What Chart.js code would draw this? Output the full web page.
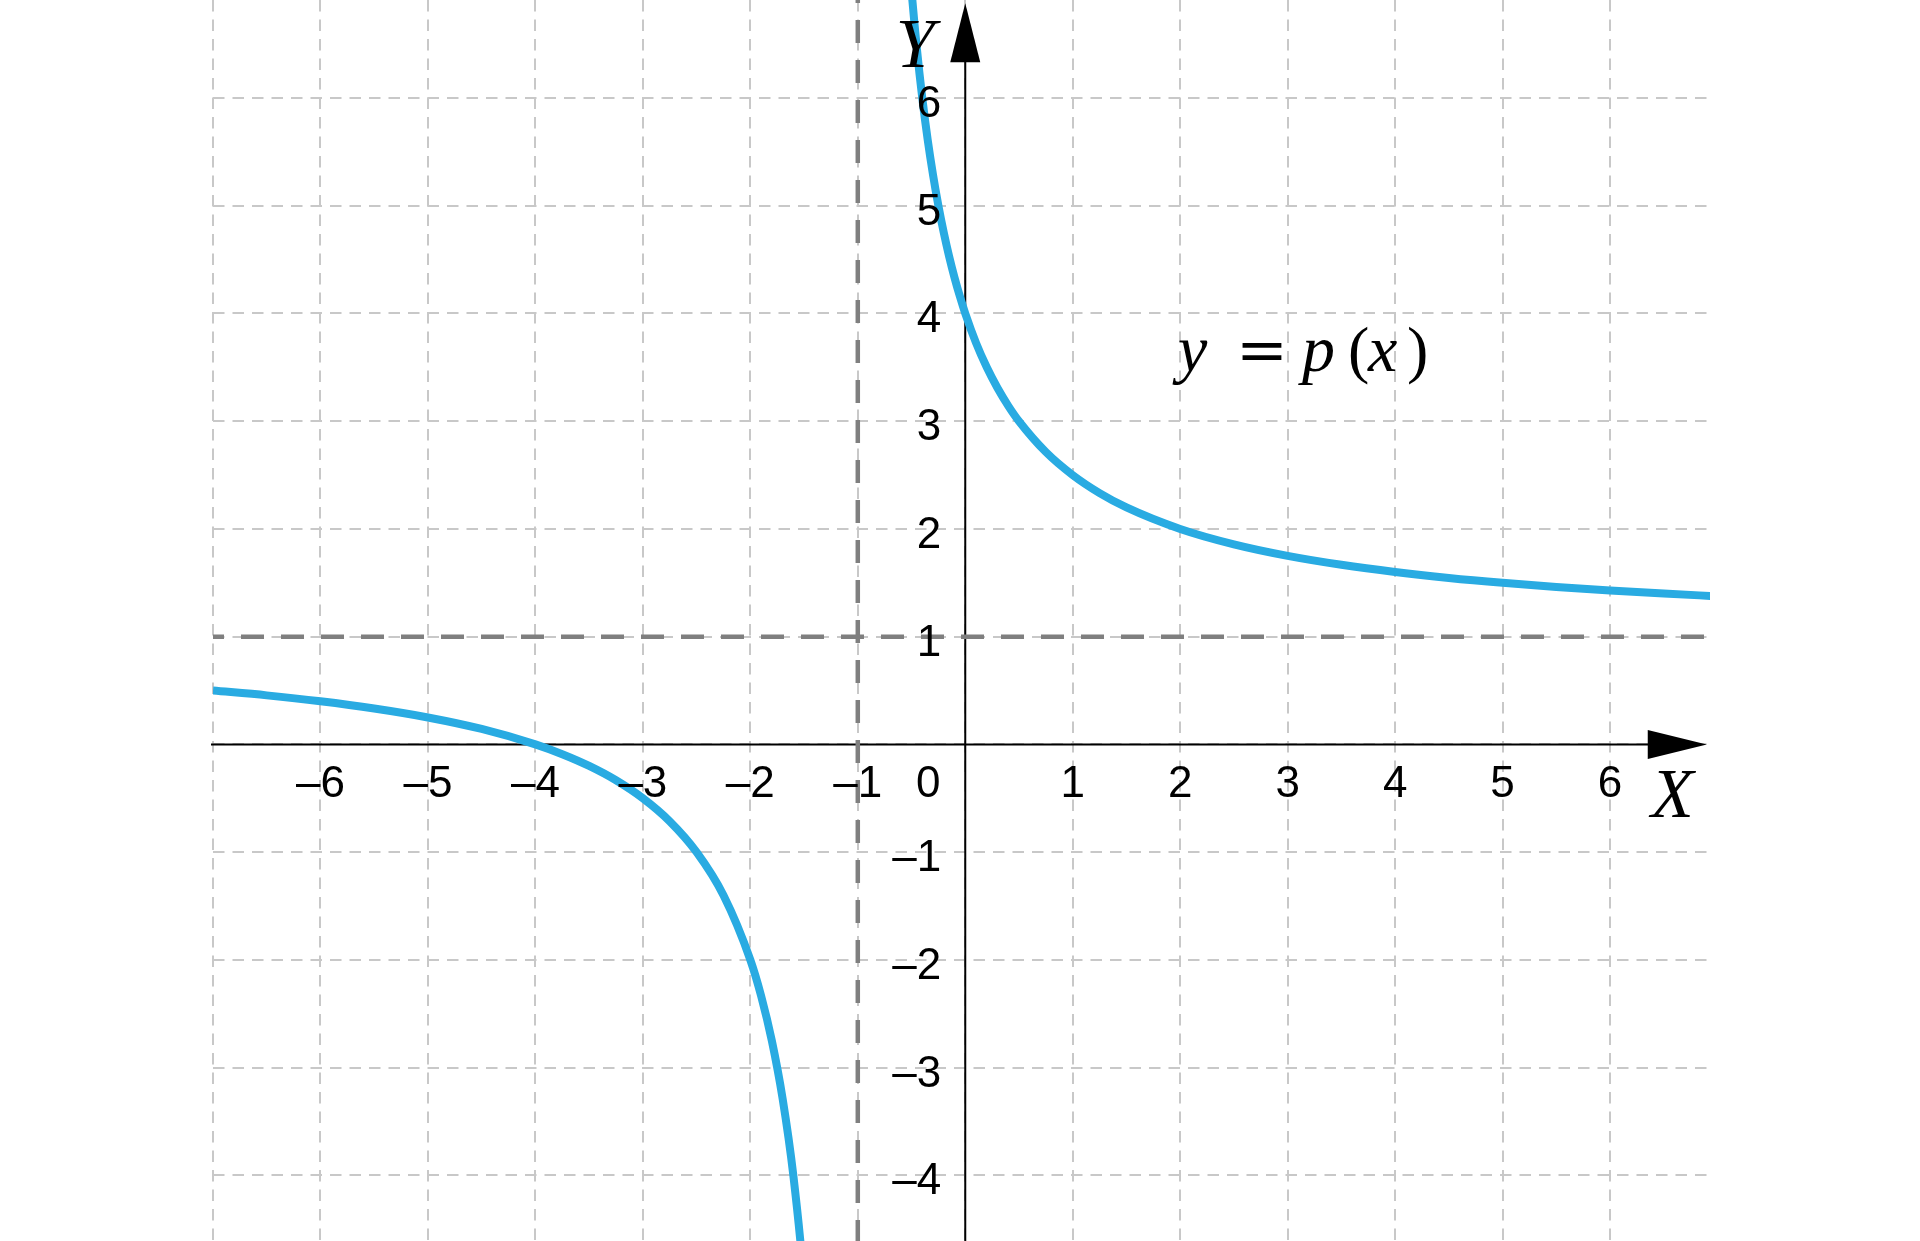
<!DOCTYPE html>
<html><head><meta charset="utf-8">
<script src="https://cdn.jsdelivr.net/npm/chart.js@4"></script>
<style>html,body{margin:0;padding:0;background:#fff;}#wrap{width:1920px;height:1241px;position:relative;}</style>
</head><body><div id="wrap"><canvas id="c"></canvas></div>
<script>
// ---- data ----
const xTickValues = [-6, -5, -4, -3, -2, -1, 1, 2, 3, 4, 5, 6];
const yTickValues = [-4, -3, -2, -1, 1, 2, 3, 4, 5, 6];
const originLabel = '0';
const leftX = [-7, -6.5, -6, -5.5, -5, -4.5, -4, -3.75, -3.5, -3.25, -3, -2.75, -2.5, -2.25, -2, -1.9, -1.8, -1.7, -1.6, -1.5, -1.4];
const leftY = [0.5, 0.455, 0.4, 0.333, 0.25, 0.143, 0, -0.091, -0.2, -0.333, -0.5, -0.714, -1, -1.4, -2, -2.333, -2.75, -3.286, -4, -5, -6.5];
const rightX = [-0.6, -0.55, -0.5, -0.45, -0.4, -0.35, -0.3, -0.25, -0.2, -0.15, -0.1, -0.05, 0, 0.1, 0.2, 0.3, 0.4, 0.5, 0.75, 1, 1.25, 1.5, 2, 2.5, 3, 3.5, 4, 4.5, 5, 5.5, 6, 6.5, 7];
const rightY = [8.5, 7.667, 7, 6.455, 6, 5.615, 5.286, 5, 4.75, 4.529, 4.333, 4.158, 4, 3.727, 3.5, 3.308, 3.143, 3, 2.714, 2.5, 2.333, 2.2, 2, 1.857, 1.75, 1.667, 1.6, 1.545, 1.5, 1.462, 1.429, 1.4, 1.375];
const hAsymX = [-7, 7];
const hAsymY = [1, 1];
const vAsymX = [-1, -1];
const vAsymY = [-5, 7];
const axisXLabel = 'X';
const axisYLabel = 'Y';
const curveLabelParts = ['y', '=', 'p', '(', 'x', ')'];

const toPts = (xs, ys) => xs.map((v, i) => ({x: v, y: ys[i]}));
const fmt = v => v < 0 ? '\u2013' + Math.abs(v) : String(v);

const CURVE = '#29abe2';
const ASYM = '#7f7f7f';

const overlay = {
  id: 'overlay',
  beforeDatasetsDraw(chart) {
    const {ctx, scales: {x, y}, chartArea} = chart;
    const ox = x.getPixelForValue(0), oy = y.getPixelForValue(0);
    ctx.save();
    ctx.strokeStyle = '#000';
    ctx.lineWidth = 2;
    ctx.beginPath();
    ctx.moveTo(chartArea.left - 2, oy);
    ctx.lineTo(x.getPixelForValue(6.5), oy);
    ctx.moveTo(ox, chartArea.bottom);
    ctx.lineTo(ox, y.getPixelForValue(6.5));
    ctx.stroke();
    ctx.restore();
  },
  afterDatasetsDraw(chart) {
    const {ctx, scales: {x, y}} = chart;
    const ox = x.getPixelForValue(0), oy = y.getPixelForValue(0);
    ctx.save();
    // arrows
    ctx.fillStyle = '#000';
    const xt = x.getPixelForValue(6.9);
    ctx.beginPath();
    ctx.moveTo(xt, oy); ctx.lineTo(xt - 59, oy - 14.5); ctx.lineTo(xt - 59, oy + 14.5); ctx.closePath(); ctx.fill();
    const yt = y.getPixelForValue(6.88);
    ctx.beginPath();
    ctx.moveTo(ox, yt); ctx.lineTo(ox - 15, yt + 59); ctx.lineTo(ox + 15, yt + 59); ctx.closePath(); ctx.fill();

    // tick labels
    ctx.font = '44px "Liberation Sans", Arial, sans-serif';
    ctx.textBaseline = 'alphabetic';
    ctx.textAlign = 'center';
    xTickValues.forEach(v => ctx.fillText(fmt(v), x.getPixelForValue(v), oy + 53));
    ctx.fillText(originLabel, ox - 37, oy + 53);
    ctx.textAlign = 'right';
    yTickValues.forEach(v => ctx.fillText(fmt(v), ox - 24, y.getPixelForValue(v) + 19));

    // axis names
    ctx.font = 'italic 70px "Liberation Serif", "Times New Roman", serif';
    ctx.textAlign = 'center';
    ctx.fillText(axisYLabel, ox - 50, y.getPixelForValue(6.29));
    ctx.fillText(axisXLabel, x.getPixelForValue(6.58), y.getPixelForValue(-0.67));

    // curve label y = p(x)
    const bx = x.getPixelForValue(1.98), by = y.getPixelForValue(3.466);
    const offs = [0, 58, 124, 170, 190, 229];
    const fonts = ['italic 66px "Liberation Serif"', '62px "DejaVu Serif"', 'italic 66px "Liberation Serif"', '64px "Liberation Serif"', 'italic 66px "Liberation Serif"', '64px "Liberation Serif"'];
    ctx.textAlign = 'left';
    curveLabelParts.forEach((t, i) => { ctx.font = fonts[i]; ctx.fillText(t, bx + offs[i], by); });
    ctx.restore();
  }
};

const lineDs = (data, color, width, dash, offset) => ({
  data, showLine: true, borderColor: color, backgroundColor: color, borderWidth: width,
  pointRadius: 0, pointHoverRadius: 0, borderDash: dash || [], borderDashOffset: offset || 0,
  cubicInterpolationMode: dash ? 'default' : 'monotone', tension: 0, fill: false
});

new Chart(document.getElementById('c'), {
  type: 'scatter',
  data: {
    datasets: [
      lineDs(toPts(rightX, rightY), CURVE, 8),
      lineDs(toPts(leftX, leftY), CURVE, 8),
      lineDs(toPts(hAsymX, hAsymY), ASYM, 4.5, [23, 17], 12),
      lineDs(toPts(vAsymX, vAsymY), ASYM, 4.5, [23, 17], 0)
    ]
  },
  options: {
    responsive: true, maintainAspectRatio: false, animation: false,
    layout: {padding: {left: 213, right: 210, top: 0, bottom: 0}},
    plugins: {legend: {display: false}, tooltip: {enabled: false}},
    events: [],
    scales: {
      x: {
        type: 'linear', min: -7, max: 6.93,
        ticks: {display: false, stepSize: 1, includeBounds: false},
        grid: {color: '#c8c8c8', lineWidth: 2, drawTicks: false},
        border: {display: false, dash: [11.5, 8]},
        afterFit(s) { s.height = 0; }
      },
      y: {
        type: 'linear', min: -4.61, max: 6.91,
        ticks: {display: false, stepSize: 1, includeBounds: false},
        grid: {color: '#c8c8c8', lineWidth: 2, drawTicks: false},
        border: {display: false, dash: [11.5, 8]},
        afterFit(s) { s.width = 0; }
      }
    }
  },
  plugins: [overlay]
});
</script>
</body></html>
